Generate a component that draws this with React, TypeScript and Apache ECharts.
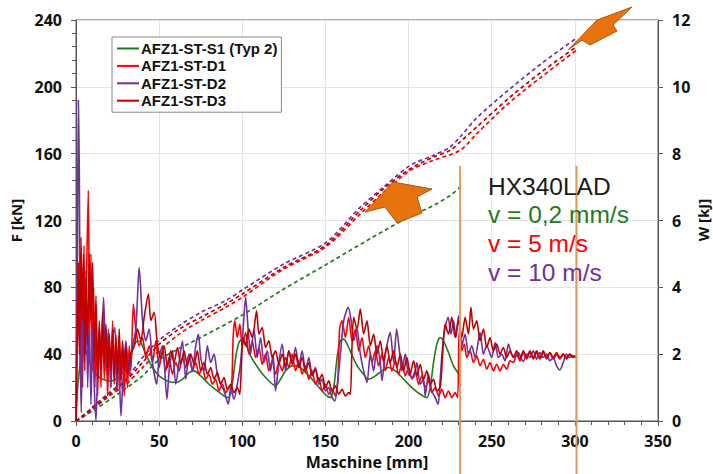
import React, { useEffect, useRef } from "react";
import * as echarts from "echarts";

const seriesNames = ["AFZ1-ST-S1 (Typ 2)", "AFZ1-ST-D1", "AFZ1-ST-D2", "AFZ1-ST-D3"];
const seriesColors = ["#1e7b1e", "#ff0000", "#7030a0", "#c00000"];

const forceS1: [number, number][] = [
  [0, 0], [1, 20], [2, 30], [3, 37], [4, 42], [5, 44], [6, 42], [8, 36], [10, 31], [13, 27], [16, 25], [20, 24], [24, 25],
  [28, 29], [31, 35], [34, 43], [37, 48], [39, 47], [42, 40], [46, 32], [50, 27], [55, 24], [60, 23], [64, 25], [68, 29],
  [71, 30], [75, 27], [80, 22], [85, 18], [89, 15], [92, 14], [94, 22], [96, 38], [98, 47], [100, 49], [102, 46], [105, 39],
  [110, 31], [115, 25], [120, 21], [123, 25], [126, 30], [130, 33], [133, 33], [137, 30], [142, 25], [147, 19], [151, 15],
  [153, 14], [155, 20], [157, 38], [159, 48], [161, 49], [164, 44], [168, 35], [172, 29], [176, 25], [180, 27], [184, 30],
  [188, 32], [192, 30], [197, 25], [202, 20], [207, 16], [211, 14], [213, 20], [215, 35], [217, 46], [219, 50], [221, 48],
  [224, 41], [227, 33], [231, 27],
];

const forceD1: [number, number][] = [
  [0, 0], [0.5, 72], [1, 40], [1.8, 90], [2.5, 30], [3.2, 100], [4, 20], [4.8, 105], [5.5, 40], [6.5, 95], [7.4, 138],
  [8.2, 50], [9, 100], [9.8, 30], [10.6, 80], [11.4, 20], [12.2, 60], [13, 15], [14, 55], [15, 20], [16, 60], [17, 25],
  [18, 55], [19, 15], [20, 50], [21, 20], [22, 60], [23, 25], [24, 52], [25, 18], [26, 50], [27, 22], [28, 45], [29, 15],
  [30, 40], [31, 20], [32, 45], [33, 30], [34.5, 70], [36, 55], [38, 45], [40, 50], [42, 38], [44, 45], [46, 35], [48, 48],
  [50, 32], [52, 42], [54, 30], [56, 38], [58, 28], [60, 35], [62, 30], [64, 38], [66, 32], [68, 40], [70, 30], [72, 35],
  [74, 28], [76, 32], [78, 25], [80, 28], [82, 22], [84, 25], [86, 18], [88, 22], [90, 17], [92, 20], [93.6, 22], [94.5, 50],
  [95.5, 60], [97, 50], [98.5, 58], [100, 45], [102, 53], [104, 40], [106, 48], [108, 38], [110, 44], [112, 34], [114, 40],
  [116, 30], [118, 36], [120, 28], [122, 35], [124, 30], [126, 38], [128, 32], [130, 40], [132, 30], [134, 36], [136, 28],
  [138, 33], [140, 25], [142, 30], [144, 22], [146, 26], [148, 18], [150, 22], [152, 16], [154, 19], [156, 15], [157.5, 25],
  [158.5, 55], [160, 60], [162, 50], [164, 62], [166, 48], [168, 55], [170, 42], [172, 50], [174, 38], [176, 45], [178, 35],
  [180, 42], [182, 33], [184, 40], [186, 30], [188, 38], [190, 30], [192, 36], [194, 28], [196, 34], [198, 27], [200, 32],
  [202, 25], [204, 30], [206, 22], [208, 27], [210, 20], [212, 24], [214, 17], [216, 20], [218, 15], [220, 19], [222, 14],
  [224, 18], [226, 14], [228, 17], [229.5, 14], [230.3, 50], [231, 55], [232, 42], [233.5, 46], [235, 38], [237, 42],
  [239, 35], [241, 39], [243, 33], [245, 37], [247, 31], [249, 35], [251, 30], [253, 34], [255, 30], [257, 34], [259, 31],
  [261, 36], [263, 35], [265, 40], [267, 36], [269, 41], [271, 37], [273, 41], [275, 37], [277, 41], [279, 37], [281, 41],
  [283, 37], [285, 41], [287, 37], [289, 40], [291, 37], [293, 40], [295, 37], [297, 40], [299, 38], [300, 39],
];

const forceD2: [number, number][] = [
  [0, 0], [0.7, 60], [1.4, 192], [2, 148], [2.6, 40], [3.2, 5], [4, 70], [5, 35], [6, 85], [7, 20], [8, 60], [9, 10],
  [10, 55], [11, 20], [12, 0], [13, 30], [14, 55], [15, 40], [16.6, 74], [18, 30], [19.5, 55], [21, 20], [22, 50],
  [23.4, 56], [24.5, 20], [25.5, 45], [27, 3], [28, 20], [30, 48], [32, 28], [34, 45], [36, 55], [38, 92], [40, 60],
  [42, 48], [44, 55], [46, 35], [48.5, 22], [50, 38], [52, 45], [54.7, 13], [56, 30], [58, 42], [60, 22], [62, 35],
  [64, 48], [66, 25], [68, 40], [70, 30], [72, 45], [73.6, 52], [75, 38], [77, 30], [79, 45], [81, 35], [83, 40], [85, 28],
  [87, 22], [89, 18], [91.6, 10], [93, 20], [95, 13], [97, 22], [99, 35], [100.5, 55], [102, 74], [103.5, 55], [105, 40],
  [107, 55], [109, 38], [111, 50], [113, 35], [115, 42], [117, 30], [118.5, 40], [120, 18], [122, 35], [124, 46], [126, 30],
  [128, 42], [130, 35], [132, 44], [134, 33], [136, 42], [138, 30], [140, 38], [142, 28], [144, 32], [146, 22], [148, 25],
  [150, 18], [152, 20], [154, 14], [155.7, 12], [157, 20], [159, 40], [161, 60], [163.7, 68], [165.5, 60], [167, 48],
  [169, 55], [171, 40], [173, 30], [175, 23], [177, 40], [179, 30], [181, 45], [183, 35], [184, 24], [186, 40], [188, 50],
  [189, 53], [191, 35], [192.8, 55], [194.5, 42], [196, 30], [198, 40], [200, 28], [203, 26], [205, 35], [207, 22],
  [209, 25], [210, 15], [212, 28], [214, 18], [216, 14], [217.8, 10], [219, 25], [221, 50], [223.8, 62], [225.5, 52],
  [227, 60], [228.5, 50], [230, 63], [232, 45], [234, 52], [236, 40], [238, 45], [240, 38], [243, 53], [245, 40], [247, 45],
  [250, 38], [252, 47], [254, 38], [256, 40], [258, 36], [260, 46], [262, 40], [264, 38], [266, 41], [269, 35.5], [271, 40],
  [273, 38], [275, 42], [277, 37], [279, 41], [281, 38], [283, 40], [285, 36], [287, 38], [289, 33], [291, 30.5], [293, 35],
  [295, 40], [297, 38], [299, 39], [301, 37.7],
];

const forceD3: [number, number][] = [
  [0, 0], [0.8, 50], [1.5, 95], [2.2, 40], [3, 110], [3.8, 60], [4.5, 100], [5.3, 30], [6, 90], [7, 45], [8, 100], [9, 60],
  [10, 95], [11, 35], [12, 75], [13, 25], [14, 60], [15, 30], [16, 65], [17, 35], [18, 58], [19, 28], [20, 52], [21, 30],
  [22, 55], [23, 22], [24, 50], [25, 28], [26, 55], [27, 25], [28, 48], [29, 30], [30, 45], [31, 28], [33, 40], [35, 45],
  [37, 55], [39, 48], [41, 62], [43.5, 76], [45, 60], [47, 65], [49, 45], [51, 38], [53, 45], [55, 32], [57, 42], [59, 35],
  [61, 44], [63, 34], [65, 42], [67, 33], [69, 40], [71, 34], [73, 42], [75, 30], [77, 35], [79, 28], [81, 32], [83, 25],
  [85, 29], [87, 22], [89, 26], [91, 19], [93, 22], [95, 17], [97, 20], [98.5, 16], [99.5, 35], [100.5, 50], [102, 45],
  [104, 55], [106, 50], [108.6, 66], [110, 52], [112, 56], [114, 44], [116, 48], [118, 38], [120, 42], [122, 34], [124, 40],
  [126, 33], [128, 42], [130, 34], [132, 40], [134, 32], [136, 38], [138, 30], [140, 35], [142, 27], [144, 31], [146, 24],
  [148, 28], [150, 20], [152, 24], [154, 18], [156, 21], [158, 16], [160, 19], [162, 15], [164, 17], [165, 16], [166, 45],
  [167, 62], [169, 55], [171, 67], [173, 52], [175, 60], [177, 45], [179, 52], [181, 40], [183, 48], [185, 36], [187, 45],
  [189, 35], [191, 42], [193, 32], [195, 40], [197, 30], [199, 38], [201, 28], [203, 36], [205, 27], [207, 34], [209, 25],
  [211, 30], [213, 22], [215, 25], [217, 18], [219, 20], [220.5, 40], [222, 58], [224, 52], [226, 62], [228, 50], [230, 60],
  [232, 50], [234, 62], [236, 52], [237.5, 68], [239, 55], [241, 60], [243, 48], [245, 55], [247, 44], [249, 50], [251, 42],
  [253, 46], [255, 40], [257, 44], [259, 38], [261, 42], [263, 38], [265, 42], [267, 37], [269, 42], [271, 38], [273, 42],
  [275, 38], [277, 42], [279, 38], [281, 42], [283, 38], [285, 41], [287, 38], [289, 41], [291, 38], [293, 40], [295, 38],
  [297, 40], [299, 38], [300, 39],
];

const energyS1: [number, number][] = [
  [0, 0], [10, 0.3], [25, 0.8], [40, 1.35], [50, 1.83], [75, 2.5], [100, 3.17], [125, 3.95], [150, 4.67], [175, 5.4],
  [200, 6.1], [215, 6.45], [225, 6.75], [231, 7.0],
];
const energyD1: [number, number][] = [
  [0, 0], [10, 0.35], [20, 0.75], [30, 1.1], [40, 1.6], [50, 2.1], [62, 2.6], [75, 3.0], [90, 3.4], [100, 3.7], [125, 4.55],
  [150, 5.2], [171, 6.2], [185, 6.85], [201, 7.5], [215, 7.8], [231, 8.1], [241, 8.6], [260, 9.5], [280, 10.3], [301, 11.1],
];
const energyD2: [number, number][] = [
  [0, 0], [5, 0.15], [10, 0.42], [20, 0.85], [30, 1.25], [40, 1.9], [50, 2.42], [62, 2.85], [75, 3.25], [90, 3.6],
  [100, 3.92], [125, 4.7], [150, 5.33], [171, 6.4], [185, 7.0], [201, 7.65], [215, 7.95], [225, 8.2], [231, 8.5],
  [241, 9.07], [260, 9.9], [280, 10.7], [301, 11.46],
];
const energyD3: [number, number][] = [
  [0, 0], [10, 0.4], [20, 0.8], [30, 1.2], [40, 1.75], [50, 2.3], [62, 2.75], [75, 3.1], [90, 3.5], [100, 3.8], [125, 4.6],
  [150, 5.25], [171, 6.3], [185, 6.95], [201, 7.55], [215, 7.9], [225, 8.1], [231, 8.35], [241, 8.8], [260, 9.65],
  [280, 10.45], [301, 11.2],
];

const markerX = [231, 301];
const noteLines = ["HX340LAD", "v = 0,2 mm/s", "v = 5 m/s", "v = 10 m/s"];
const noteColors = ["#1a1a1a", "#1e7b1e", "#ff0000", "#7030a0"];
const rightAxisName = "W [kJ]";

const FONT = '"Open Sans", "Noto Sans", sans-serif';
const W = 713;
const H = 474;

export default function App() {
  const ref = useRef<HTMLDivElement>(null);
  useEffect(() => {
    document.body.style.margin = "0";
    document.body.style.overflow = "hidden";
    const chart = echarts.init(ref.current!, null, { renderer: "svg", width: W, height: H });
    const forces = [forceS1, forceD1, forceD2, forceD3];
    const energies = [energyS1, energyD1, energyD2, energyD3];
    const axisLabel = { color: "#111", fontWeight: "bold" as const, fontSize: 16, fontFamily: FONT };
    const nameStyle = { color: "#111", fontWeight: "bold" as const, fontSize: 15, fontFamily: FONT };
    const series: any[] = [];
    energies.forEach((d, i) => {
      series.push({
        name: "W " + seriesNames[i],
        type: "line",
        yAxisIndex: 1,
        data: d,
        showSymbol: false,
        smooth: 0.3,
        lineStyle: { color: seriesColors[i], width: 1.7, type: [4, 3] },
        z: 3,
      });
    });
    forces.forEach((d, i) => {
      series.push({
        name: seriesNames[i],
        type: "line",
        yAxisIndex: 0,
        data: d,
        showSymbol: false,
        smooth: 0.25,
        itemStyle: { color: seriesColors[i] },
        lineStyle: { color: seriesColors[i], width: 1.6 },
        z: 4 + i,
      });
    });
    chart.setOption({
      animation: false,
      backgroundColor: "#fff",
      grid: {
        left: 76, right: 55, top: 20, bottom: 53, show: true, borderColor: "#555", borderWidth: 1,
        containLabel: false, outerBoundsMode: "none",
      },
      legend: {
        data: seriesNames,
        orient: "vertical",
        left: 112,
        top: 37,
        padding: [3, 4, 3, 5],
        itemGap: 0.4,
        itemWidth: 22,
        itemHeight: 2,
        icon: "rect",
        borderColor: "#888",
        borderWidth: 1,
        backgroundColor: "#fff",
        textStyle: {
          color: "#111",
          fontWeight: "bold",
          fontFamily: '"Liberation Sans", Arial, sans-serif',
          fontSize: 15,
          lineHeight: 17,
          padding: [0, 0, 0, -3],
        },
      },
      xAxis: {
        type: "value",
        min: 0,
        max: 350,
        interval: 50,
        name: "Maschine [mm]",
        nameLocation: "middle",
        nameGap: 32,
        nameTextStyle: { ...nameStyle, fontSize: 16 },
        axisLine: { lineStyle: { color: "#555" } },
        axisTick: { lineStyle: { color: "#555" }, length: 5 },
        minorTick: { show: true, splitNumber: 5, length: 4, lineStyle: { color: "#555" } },
        axisLabel: { ...axisLabel, margin: 12 },
        splitLine: { show: true, lineStyle: { color: "#e3e3e3" } },
      },
      yAxis: [
        {
          type: "value",
          min: 0,
          max: 240,
          interval: 40,
          name: "F [kN]",
          nameLocation: "middle",
          nameGap: 52,
          nameTextStyle: nameStyle,
          axisLine: { show: true, lineStyle: { color: "#555" } },
          axisTick: { show: true, lineStyle: { color: "#555" }, length: 5 },
          minorTick: { show: true, splitNumber: 5, length: 4, lineStyle: { color: "#555" } },
          axisLabel: { ...axisLabel, margin: 14 },
          splitLine: { show: true, lineStyle: { color: "#e3e3e3" } },
        },
        {
          type: "value",
          min: 0,
          max: 12,
          interval: 2,
          position: "right",
          axisLine: { show: true, lineStyle: { color: "#555" } },
          axisTick: { show: true, lineStyle: { color: "#555" }, length: 5 },
          axisLabel: { ...axisLabel, margin: 14 },
          splitLine: { show: false },
        },
      ],
      series,
    });

    const xs = markerX.map((v) => chart.convertToPixel({ xAxisIndex: 0 }, v) as number);
    const graphic: any[] = [];
    xs.forEach((px) => {
      graphic.push({
        type: "line",
        shape: { x1: px, y1: 166, x2: px, y2: H },
        style: { stroke: "#e39a5e", lineWidth: 2 },
        z: 100,
      });
    });
    graphic.push({
      type: "text",
      x: 703,
      y: 220,
      rotation: Math.PI / 2,
      style: {
        text: rightAxisName,
        fill: "#111",
        font: 'bold 15px "Open Sans", "Noto Sans", sans-serif',
        align: "center",
        verticalAlign: "middle",
      },
      z: 101,
    });
    noteLines.forEach((t, i) => {
      graphic.push({
        type: "text",
        x: 488,
        y: 186 + i * 28.7,
        style: {
          text: t,
          fill: noteColors[i],
          font: '24.5px "Liberation Sans", Arial, sans-serif',
          lineHeight: 26,
          verticalAlign: "middle",
          align: "left",
        },
        z: 101,
      });
    });
    const arrowStyle = { fill: "#e8730c", stroke: "#a85a10", lineWidth: 1 };
    graphic.push({
      type: "polygon",
      shape: { points: [[365, 212], [393, 182], [432, 189], [417, 197], [422, 213], [397, 223], [385, 207]] },
      style: arrowStyle,
      z: 102,
    });
    graphic.push({
      type: "polygon",
      shape: { points: [[568, 50], [597, 20], [632, 7], [613, 25], [617, 31], [590, 45], [582, 40]] },
      style: arrowStyle,
      z: 102,
    });
    chart.setOption({ graphic });
    return () => chart.dispose();
  }, []);
  return <div ref={ref} style={{ position: "absolute", left: 0, top: 0, width: W, height: H }} />;
}
